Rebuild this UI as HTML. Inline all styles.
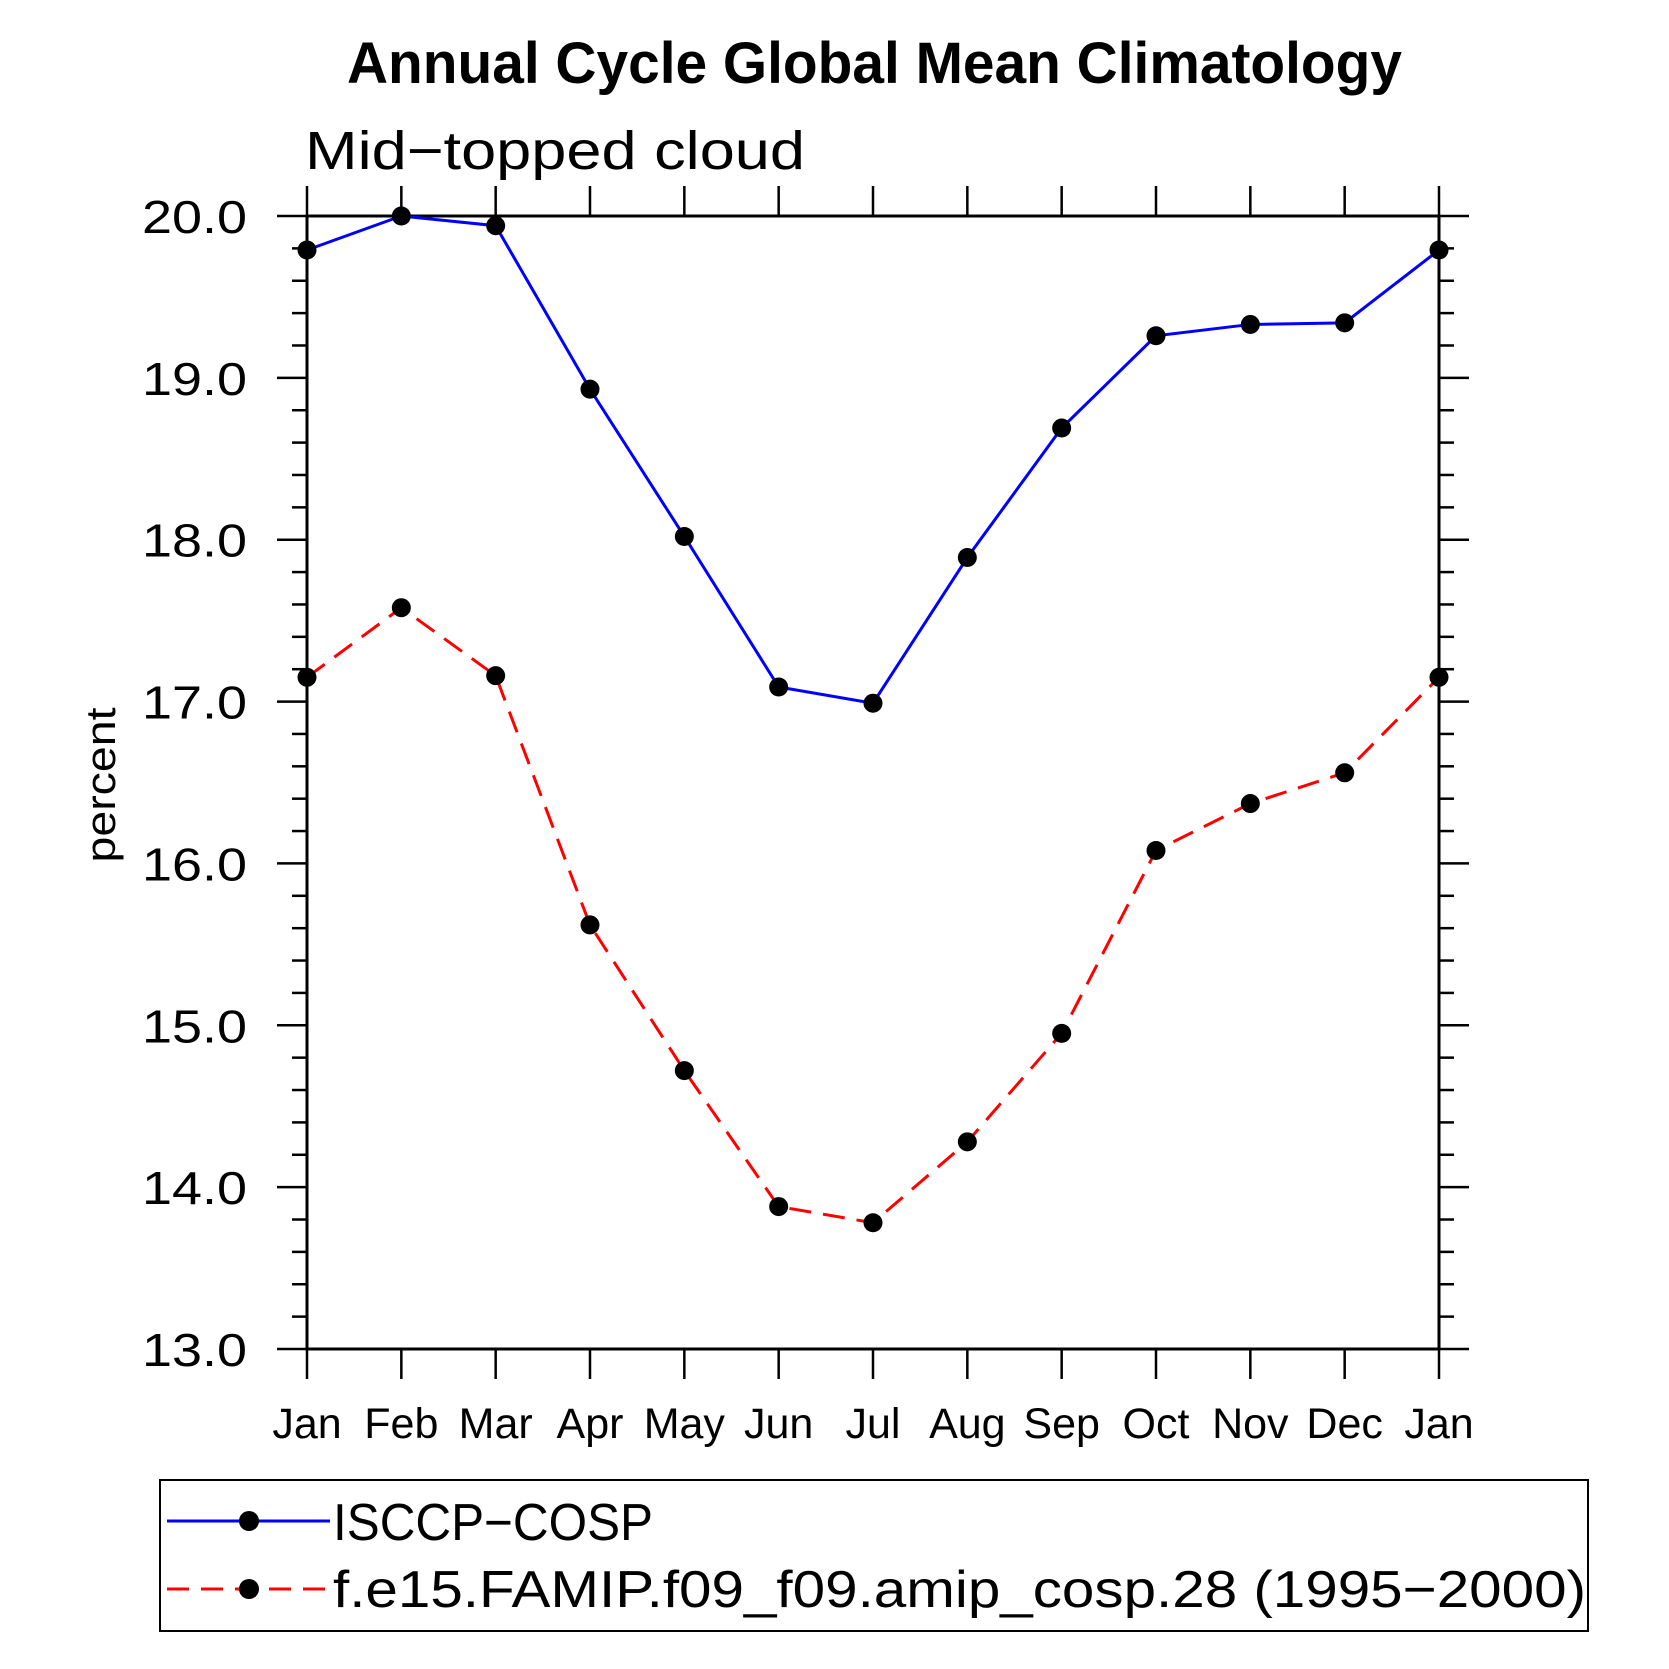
<!DOCTYPE html>
<html><head><meta charset="utf-8"><style>
html,body{margin:0;padding:0;background:#fff}
svg{display:block}
text{font-family:"Liberation Sans",sans-serif;fill:#000}
</style></head><body>
<svg id="chart" width="1669" height="1669" viewBox="0 0 1669 1669" xmlns="http://www.w3.org/2000/svg">
<text x="347" y="83" font-size="58" font-weight="bold" textLength="1055" lengthAdjust="spacingAndGlyphs">Annual Cycle Global Mean Climatology</text>
<text x="305" y="169" font-size="54" textLength="500" lengthAdjust="spacingAndGlyphs" style="font-weight:normal">Mid−topped cloud</text>
<text x="0" y="0" font-size="42" text-anchor="middle" textLength="155" lengthAdjust="spacingAndGlyphs" transform="translate(115,785) rotate(-90)">percent</text>
<g id="axes"></g>
<g id="series"></g>
<rect x="160" y="1480" width="1428" height="151" fill="none" stroke="#000" stroke-width="2"/>
<g>
<line x1="167" y1="1521" x2="330" y2="1521" stroke="#0000ff" stroke-width="3"/>
<circle cx="249" cy="1521" r="10" fill="#000"/>
<text x="333" y="1540" font-size="52" textLength="320" lengthAdjust="spacingAndGlyphs">ISCCP−COSP</text>
</g>
<g>
<line x1="167" y1="1589" x2="330" y2="1589" stroke="#ff0000" stroke-width="3" stroke-dasharray="22,12"/>
<circle cx="249" cy="1589" r="10" fill="#000"/>
<text x="333" y="1607" font-size="52" textLength="1253" lengthAdjust="spacingAndGlyphs">f.e15.FAMIP.f09_f09.amip_cosp.28 (1995−2000)</text>
</g>
</svg>
<script>
const months = ["Jan","Feb","Mar","Apr","May","Jun","Jul","Aug","Sep","Oct","Nov","Dec","Jan"];
const isccpValues = [19.79,20.0,19.94,18.93,18.02,17.09,16.99,17.89,18.69,19.26,19.33,19.34,19.79];
const modelValues = [17.15,17.58,17.16,15.62,14.72,13.88,13.78,14.28,14.95,16.08,16.37,16.56,17.15];
const yTickLabels = ["13.0","14.0","15.0","16.0","17.0","18.0","19.0","20.0"];
const yMin = 13, yMax = 20;

const NS = "http://www.w3.org/2000/svg";
const L = 307, R = 1439, T = 216, B = 1349;
function xPos(i){ return L + (R - L) * i / (months.length - 1); }
function yPos(v){ return B - (B - T) * (v - yMin) / (yMax - yMin); }
function mk(tag, attrs, parent){
  const e = document.createElementNS(NS, tag);
  for (const k in attrs) e.setAttribute(k, attrs[k]);
  parent.appendChild(e);
  return e;
}
const axes = document.getElementById('axes');
const series = document.getElementById('series');

const frame = mk('rect', {x:L, y:T, width:R-L, height:B-T, fill:'none', stroke:'#000', 'stroke-width':3}, axes);



for (let v = yMin; v <= yMax + 1e-9; v += 0.2) {
  const y = yPos(v);
  const major = Math.abs(v - Math.round(v)) < 1e-6;
  const len = major ? 30 : 15;
  const tl = mk('line', {x1:L-len, y1:y, x2:L, y2:y, stroke:'#000', 'stroke-width':2.5}, axes);
  
  
  const tr = mk('line', {x1:R, y1:y, x2:R+len, y2:y, stroke:'#000', 'stroke-width':2.5}, axes);
  
  
}
yTickLabels.forEach(function(lbl){
  const v = parseFloat(lbl);
  const t = mk('text', {x:142, y:yPos(v)+17, 'font-size':46, textLength:105, lengthAdjust:'spacingAndGlyphs'}, axes);
  t.textContent = lbl;
  
  
});
months.forEach(function(m, i){
  const x = xPos(i);
  const tb = mk('line', {x1:x, y1:B, x2:x, y2:B+30, stroke:'#000', 'stroke-width':2.5}, axes);
  
  
  const tt = mk('line', {x1:x, y1:T-30, x2:x, y2:T, stroke:'#000', 'stroke-width':2.5}, axes);
  
  
  const t = mk('text', {x:x, y:1438, 'font-size':43, 'text-anchor':'middle'}, axes);
  t.textContent = m;
  
  
});

function drawSeries(vals, color, dash, name){
  const pts = vals.map(function(v,i){ return xPos(i) + ',' + yPos(v); }).join(' ');
  const attrs = {points:pts, fill:'none', stroke:color, 'stroke-width':3};
  if (dash) attrs['stroke-dasharray'] = dash;
  const pl = mk('polyline', attrs, series);
  
  
  vals.forEach(function(v,i){
    const c = mk('circle', {cx:xPos(i), cy:yPos(v), r:9.5, fill:'#000'}, series);
    
    
  });
}
drawSeries(isccpValues, '#0000ff', null, 'isccp-cosp');
drawSeries(modelValues, '#ff0000', '22,12', 'model');
</script>
</body></html>
